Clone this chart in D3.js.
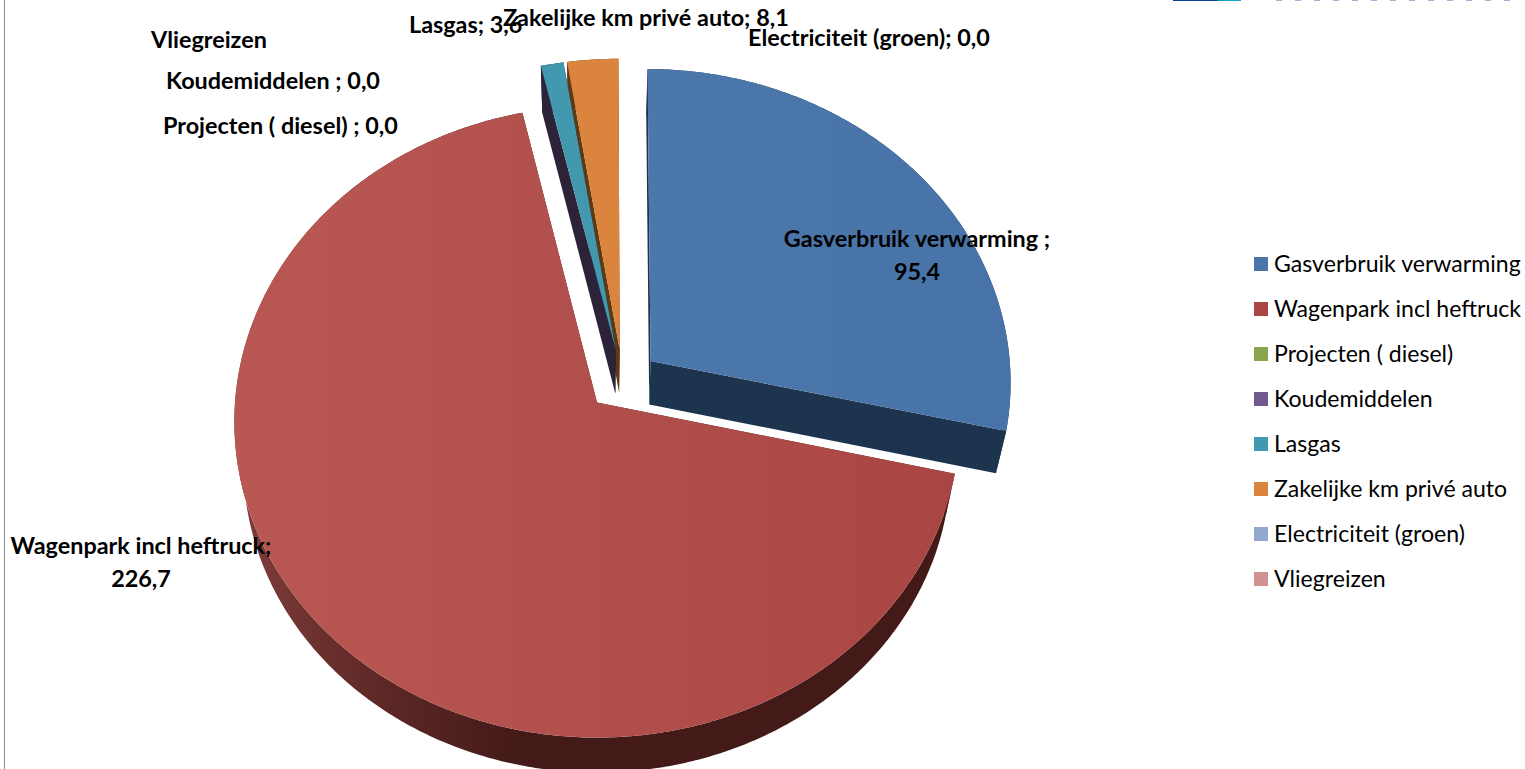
<!DOCTYPE html>
<html>
<head>
<meta charset="utf-8">
<script src="https://cdn.jsdelivr.net/npm/d3@7"></script>
<style>
html, body { margin: 0; padding: 0; background: #fff; overflow: hidden; }
text { font-family: Lato, "Open Sans", sans-serif; fill: #000; }
</style>
</head>
<body>
<div id="viz"></div>
<script>
(function() {

var categories = ["Gasverbruik verwarming", "Wagenpark incl heftruck", "Projecten ( diesel)", "Koudemiddelen", "Lasgas", "Zakelijke km privé auto", "Electriciteit (groen)", "Vliegreizen"];
var values = [95.4, 226.7, 0, 0, 3.6, 8.1, 0, null];
var separators = [" ; ", "; ", " ; ", " ; ", "; ", "; ", "; ", ""];
var colors = ["#4a76a9", "#aa4643", "#89a54e", "#71588f", "#4198af", "#db843d", "#93a9cf", "#d19392"];
var sideColors = ["#1d344e", "#431a18", "#4a5a2a", "#3b2d4c", "#2d2339", "#5e3a14", "#4e5a70", "#6e4e4d"];

var width = 1525, height = 769;

var svg = d3.select("#viz").append("svg")
    .attr("width", width)
    .attr("height", height)
    .style("display", "block");

// frame on the left and the cut off logo at the top
svg.append("line").attr("x1", 4.5).attr("x2", 4.5).attr("y1", 0).attr("y2", height)
    .style("stroke", "#8c8c8c").style("stroke-width", 1);
svg.append("rect").attr("x", 1173).attr("y", 0).attr("width", 45).attr("height", 1).style("fill", "#0b3f92");
svg.append("rect").attr("x", 1218).attr("y", 0).attr("width", 23).attr("height", 1).style("fill", "#12a3c8");
d3.range(1276, 1510, 19).forEach(function(x) {
    svg.append("rect").attr("x", x).attr("y", 0).attr("width", 6).attr("height", 1).style("fill", "#9db3d8");
});

// gradients
var defs = svg.append("defs");
function gradient(id, x1, x2, stops) {
    var g = defs.append("linearGradient").attr("id", id)
        .attr("gradientUnits", "userSpaceOnUse")
        .attr("x1", x1).attr("x2", x2).attr("y1", 0).attr("y2", 0);
    stops.forEach(function(s) {
        g.append("stop").attr("offset", s[0]).attr("stop-color", s[1]);
    });
}
gradient("redTop", 233, 955, [[0, "#b95853"], [0.5, "#b14f4c"], [1, "#a94644"]]);
gradient("redSide", 250, 520, [[0, "#7d3b39"], [0.45, "#5f2927"], [1, "#431a18"]]);
gradient("blueTop", 650, 1010, [[0, "#4b77ab"], [1, "#4873a8"]]);

// tilted disc: unit circle coordinates (u to the right, v to the viewer) to the page
var originX = 597, originY = 402;
var pieU = 0.071, pieV = -0.069, explode = 0.1;

// wall height changes a little from the back of the pie to the front
var depth = d3.scaleLinear().domain([-1.2, 0, 1]).range([47, 43, 35]);

function top(u, v) {
    var w = 1 - 0.061 * v;
    return [originX + 362 * u / w, originY + 314.6 * v / w];
}
function bottom(u, v) {
    var p = top(u, v);
    return [originX + (p[0] - originX) * 0.975, p[1] + depth(v)];
}

var pie = d3.pie().sort(null).value(function(d) { return d || 0; });
var arcs = pie(values);

var line = d3.line();

function drawSlice(i) {
    var d = arcs[i];
    if (d.endAngle - d.startAngle === 0) return;
    var mid = (d.startAngle + d.endAngle) / 2;
    var cu = pieU + explode * Math.sin(mid);
    var cv = pieV - explode * Math.cos(mid);
    var steps = d3.range(d.startAngle, d.endAngle, 0.01).concat([d.endAngle]);
    var uv = steps.map(function(a) { return [cu + Math.sin(a), cv - Math.cos(a)]; });
    var first = uv[0], last = uv[uv.length - 1];
    function t(p) { return top(p[0], p[1]); }
    function b(p) { return bottom(p[0], p[1]); }
    var sideFill = i === 1 ? "url(#redSide)" : sideColors[i];
    var g = svg.append("g");

    // radial faces, then outer wall, then the top
    [first, last].forEach(function(p) {
        g.append("path")
            .attr("d", line([t([cu, cv]), t(p), b(p), b([cu, cv])]) + "Z")
            .style("fill", sideFill);
    });
    g.append("path")
        .attr("d", line(uv.map(t).concat(uv.map(b).reverse())) + "Z")
        .style("fill", sideFill);
    g.append("path")
        .attr("d", line([t([cu, cv])].concat(uv.map(t))) + "Z")
        .style("fill", i === 0 ? "url(#blueTop)" : i === 1 ? "url(#redTop)" : colors[i]);
}

// back to front, the teal slice lies over the brown side of the orange one
[5, 4, 0, 1].forEach(drawSlice);

// data labels
function valueText(i) {
    if (values[i] === null) return categories[i];
    return categories[i] + separators[i] + d3.format(".1f")(values[i]).replace(".", ",");
}

var labelFont = 23.4;
function label(i, x, y, anchor) {
    svg.append("text").attr("x", x).attr("y", y)
        .attr("text-anchor", anchor || "start")
        .style("font-size", labelFont + "px")
        .style("font-weight", "700")
        .text(valueText(i));
}
function splitLabel(i, x, y1, y2) {
    var t = valueText(i), n = categories[i].length + separators[i].length;
    svg.append("text").attr("x", x).attr("y", y1).attr("text-anchor", "middle")
        .style("font-size", labelFont + "px").style("font-weight", "700")
        .text(t.slice(0, n).trim());
    svg.append("text").attr("x", x).attr("y", y2).attr("text-anchor", "middle")
        .style("font-size", labelFont + "px").style("font-weight", "700")
        .text(t.slice(n));
}

splitLabel(0, 917, 247, 280);
splitLabel(1, 141, 554, 587);
label(2, 163, 134);
label(3, 166, 89);
label(4, 409, 33);
label(5, 503, 26);
label(6, 748, 46);
label(7, 151, 48);

// legend
var legendY = d3.scaleLinear().domain([0, categories.length - 1]).range([264, 579]);

var legend = svg.selectAll(".legend")
    .data(categories)
    .enter().append("g")
    .attr("class", "legend")
    .attr("transform", function(d, i) { return "translate(1254," + legendY(i) + ")"; });

legend.append("rect")
    .attr("x", 0).attr("y", -7).attr("width", 14).attr("height", 14)
    .style("fill", function(d, i) { return colors[i]; });

legend.append("text")
    .attr("x", 20).attr("y", 8)
    .style("font-size", "23.1px")
    .text(function(d) { return d; });

})();
</script>
</body>
</html>
